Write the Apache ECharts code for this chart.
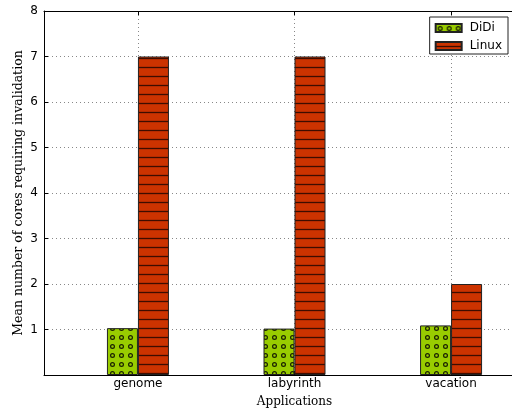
<!DOCTYPE html>
<html>
<head>
<meta charset="utf-8">
<script src="https://cdn.jsdelivr.net/npm/echarts@6/dist/echarts.min.js"></script>
<style>
  html, body { margin: 0; padding: 0; background: #fff; }
  #chart { width: 512px; height: 413px; }
</style>
</head>
<body>
<div id="chart"></div>
<script>
// Applications and their category positions on the x scale
const categories = ['genome', 'labyrinth', 'vacation'];
const positions = [0, 1, 2];
// Mean number of cores requiring invalidation
const didiValues = [1.03, 1.02, 1.09];
const linuxValues = [7, 7, 2];
const yTicks = [0, 1, 2, 3, 4, 5, 6, 7, 8];

// Hatch fill: hollow circles on a solid background
function circleHatch(bg, ink) {
  const c = document.createElement('canvas');
  c.width = 9; c.height = 9;
  const g = c.getContext('2d');
  g.fillStyle = bg; g.fillRect(0, 0, 9, 9);
  g.strokeStyle = ink; g.lineWidth = 1.2;
  g.beginPath(); g.arc(4.5, 4.5, 1.9, 0, Math.PI * 2); g.stroke();
  return c;
}
// Hatch fill: horizontal lines on a solid background
function lineHatch(bg, ink) {
  const c = document.createElement('canvas');
  c.width = 9; c.height = 9;
  const g = c.getContext('2d');
  g.fillStyle = bg; g.fillRect(0, 0, 9, 9);
  g.strokeStyle = ink; g.lineWidth = 1.3;
  g.beginPath(); g.moveTo(0, 4.5); g.lineTo(9, 4.5); g.stroke();
  return c;
}

const didiFill = { image: circleHatch('#99cc00', '#1a2000'), repeat: 'repeat' };
const linuxFill = { image: lineHatch('#cc3300', '#3d0d00'), repeat: 'repeat' };

const pair = (xs, ys) => xs.map((x, i) => [x, ys[i]]);
const gridLine = { show: true, lineStyle: { color: '#888', type: [1, 3], width: 1 } };

const chart = echarts.init(document.getElementById('chart'), null, { renderer: 'canvas' });
chart.setOption({
  animation: false,
  backgroundColor: '#fff',
  grid: { left: 44, top: 11, right: -33, bottom: 38, containLabel: false, outerBoundsMode: 'none' },
  legend: {
    right: 4, top: 17,
    orient: 'vertical',
    itemWidth: 26, itemHeight: 8, itemGap: 6,
    icon: 'rect',
    padding: [5, 6, 2, 5],
    borderColor: '#222', borderWidth: 1,
    backgroundColor: '#fff',
    textStyle: { fontFamily: 'DejaVu Sans', fontSize: 12, color: '#000', padding: [0, 0, 0, 3] },
    data: ['DiDi', 'Linux']
  },
  xAxis: [{
    type: 'value', min: -0.6, max: 2.6,
    name: 'Applications', nameLocation: 'middle', nameGap: 21,
    nameTextStyle: { fontFamily: 'DejaVu Serif', fontSize: 12, color: '#000' },
    axisLine: { show: true, onZero: false, lineStyle: { color: '#000', width: 1 } },
    axisTick: { show: true, inside: true, length: 4, customValues: positions, lineStyle: { color: '#000' } },
    axisLabel: {
      customValues: positions, margin: 3,
      formatter: v => categories[Math.round(v)],
      fontFamily: 'DejaVu Sans', fontSize: 12, color: '#000'
    },
    splitLine: gridLine
  }, {
    type: 'value', min: -0.6, max: 2.6, position: 'top',
    axisLine: { show: true, onZero: false, lineStyle: { color: '#000', width: 1 } },
    axisTick: { show: true, inside: true, length: 4, customValues: positions, lineStyle: { color: '#000' } },
    axisLabel: { show: false },
    splitLine: { show: false }
  }],
  yAxis: {
    type: 'value', min: yTicks[0], max: yTicks[yTicks.length - 1], interval: 1,
    name: 'Mean number of cores requiring invalidation',
    nameLocation: 'middle', nameGap: 19, nameMoveOverlap: false,
    nameTextStyle: { fontFamily: 'DejaVu Serif', fontSize: 12.5, color: '#000' },
    axisLine: { show: true, onZero: false, lineStyle: { color: '#000', width: 1 } },
    axisTick: { show: true, inside: true, length: 4, lineStyle: { color: '#000' } },
    axisLabel: {
      formatter: v => (v === 0 ? '' : String(v)), margin: 6,
      fontFamily: 'DejaVu Sans', fontSize: 12, color: '#000'
    },
    splitLine: gridLine
  },
  series: [{
    name: 'DiDi', type: 'bar',
    data: pair(positions, didiValues),
    barWidth: 31,
    itemStyle: { color: didiFill, borderColor: '#222', borderWidth: 1 }
  }, {
    name: 'Linux', type: 'bar',
    data: pair(positions, linuxValues),
    barWidth: 31, barGap: '0%',
    itemStyle: { color: linuxFill, borderColor: '#222', borderWidth: 1 }
  }]
});
</script>
</body>
</html>
